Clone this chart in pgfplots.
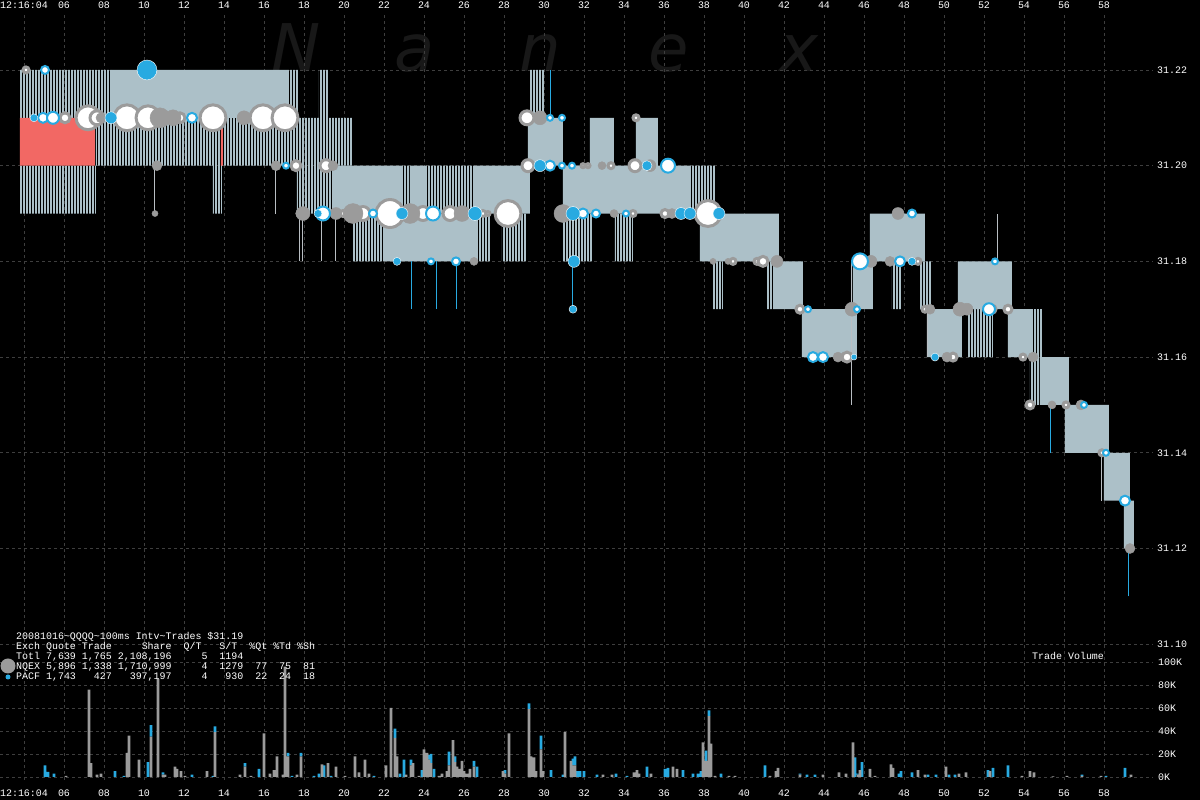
\documentclass[border=0pt]{standalone}
\usepackage{fontspec}
\setmonofont{Liberation Mono}
\newfontfamily\wmfont{DejaVu Sans}
\usepackage{pgfplots}
\usepackage{pgfplotstable}
\pgfplotsset{compat=1.18}
\usetikzlibrary{patterns.meta}

\definecolor{band}{RGB}{172,192,200}
\definecolor{tgray}{RGB}{155,155,155}
\definecolor{tblue}{RGB}{40,170,225}
\definecolor{gridc}{RGB}{62,62,62}
\definecolor{wmc}{RGB}{24,24,24}
\definecolor{redq}{RGB}{242,104,100}
\definecolor{spk}{RGB}{185,190,195}

\newcommand\lab{\fontsize{10}{10}\selectfont\ttfamily}

% trades: t (s after 12:16:00), price, radius (px)
\pgfplotstableread{
t p r
4.10 31.22 3
6.05 31.21 5
7.20 31.21 12
7.65 31.21 7
9.15 31.21 13
10.20 31.21 12
11.80 31.21 5
13.45 31.21 13
15.95 31.21 13
17.05 31.21 13
29.15 31.21 7
34.60 31.21 3
17.60 31.20 5
19.10 31.20 6
29.20 31.20 6
31.95 31.20 2
32.20 31.20 2
33.35 31.20 3
34.55 31.20 6
17.80 31.19 3
19.95 31.19 3
20.95 31.19 7
22.30 31.19 14
23.95 31.19 7
25.30 31.19 7
26.95 31.19 3
27.20 31.19 2
28.20 31.19 13
34.45 31.19 3
36.05 31.19 4
38.20 31.19 13
39.45 31.18 3
40.65 31.18 3
40.95 31.18 5
48.70 31.18 3
42.80 31.17 4
49.05 31.17 3
52.40 31.17 4
53.20 31.17 4
45.15 31.16 5
50.45 31.16 4
53.95 31.16 3
54.30 31.15 4
56.10 31.15 3
57.90 31.14 3
}\tradesW

\pgfplotstableread{
t p r
5.05 31.22 4
4.95 31.21 5
5.45 31.21 6
12.40 31.21 5
30.30 31.21 3
30.90 31.21 3
17.10 31.20 3
30.30 31.20 5
30.90 31.20 3
31.40 31.20 3
36.20 31.20 7
18.95 31.19 7
21.45 31.19 4
24.45 31.19 7
31.95 31.19 5
32.60 31.19 4
34.10 31.19 3
48.40 31.19 4
24.35 31.18 3
25.60 31.18 4
45.80 31.18 8
47.80 31.18 5
52.55 31.18 3
43.20 31.17 3
45.65 31.17 3
52.25 31.17 6
43.45 31.16 5
43.95 31.16 5
57.00 31.15 3
58.10 31.14 3
59.05 31.13 5
}\tradesC

\pgfplotstableread{
t p r
7.85 31.21 5
10.80 31.21 10
11.45 31.21 8
15.00 31.21 7
29.80 31.21 7
10.65 31.20 5
16.60 31.20 5
19.45 31.20 5
32.90 31.20 4
35.30 31.20 6
10.55 31.19 3
17.95 31.19 7
19.60 31.19 6
20.45 31.19 10
23.30 31.19 10
25.90 31.19 8
30.95 31.19 9
33.50 31.19 4
36.40 31.19 5
47.70 31.19 6
26.50 31.18 4
38.45 31.18 3
39.20 31.18 3
41.65 31.18 6
46.35 31.18 6
47.30 31.18 5
45.40 31.17 7
49.30 31.17 5
50.80 31.17 7
51.15 31.17 6
44.70 31.16 5
50.15 31.16 5
54.45 31.16 5
55.40 31.15 4
56.85 31.15 5
59.30 31.12 5
}\tradesG

\pgfplotstableread{
t p r
10.15 31.22 10
4.50 31.21 4
8.35 31.21 6
29.80 31.20 6
35.15 31.20 5
18.70 31.19 4
22.90 31.19 6
26.55 31.19 7
31.45 31.19 7
36.85 31.19 6
37.30 31.19 6
38.75 31.19 6
22.65 31.18 4
31.50 31.18 6
48.40 31.18 4
31.45 31.17 4
45.50 31.16 3
49.55 31.16 4
}\tradesB

% trade volume per 100ms interval, thousands of shares: NQEX (g), PACF (b)
\pgfplotstableread{
t g b
5.05 0 10
5.20 0 4.5
5.50 0 3
6.10 1 0
7.25 76 0
7.35 12 0
7.65 2 0
7.85 3 0
8.55 0 5
9.00 0 1
9.15 21 0
9.25 36 0
9.75 15 0
10.20 0 13
10.35 35 10
10.70 85 0
10.95 2 2
11.05 2 0
11.55 9 0
11.65 7 0
11.85 5 0
12.05 1 0
12.40 0 2
13.15 5 0
13.45 0 1
13.55 39 5
14.80 2 0
15.05 9 3
15.35 1 0
15.75 0 7
16.00 38 0
16.30 3 0
16.50 6 0
16.65 18 0
16.95 2 0
17.05 96 0
17.20 18 3
17.40 0 1
17.65 2 0
17.85 18 3
18.50 0 1
18.75 0 3
18.90 11 0
19.00 0 10
19.20 12 0
19.35 0 1
19.60 9 0
20.05 1 0
20.55 18 0
20.75 4 0
21.05 15 0
21.25 3 0
21.50 0 1
22.10 10 0
22.35 60 0
22.55 34 8
22.65 18 0
22.80 0 3
23.00 0 15
23.10 2 0
23.35 10 5
23.45 12 0
23.75 1 0
23.90 0 6
24.00 24 0
24.15 21 0
24.25 15 4
24.35 12 8
24.50 0 7
24.75 1 0
24.90 3 0
25.15 5 0
25.25 10 12
25.45 32 0
25.55 13 5
25.65 9 0
25.80 7 0
25.90 14 0
26.00 5 0
26.15 3 0
26.30 7 0
26.50 9 5
26.65 0 9
27.95 5 0
28.05 3 3
28.25 38 0
29.25 59 5
29.35 18 0
29.50 17 0
29.60 5 0
29.85 24 12
29.95 5 0
30.35 0 6
30.95 0 2
31.05 39 0
31.35 14 0
31.45 10 6
31.55 10 8
31.65 0 5
31.80 0 5
32.00 0 5
32.65 0 2
32.95 2 0
33.40 2 0
33.60 0 3
34.15 0 1
34.50 4 0
34.65 6 0
34.75 3 0
35.15 0 9
35.35 3 0
36.05 0 7
36.20 0 8
36.45 9 0
36.65 7 0
36.95 0 6
37.45 0 3
37.70 0 3
37.85 0 5
37.95 30 0
38.10 14 9
38.25 53 5
38.35 29 0
38.55 1 0
38.85 0 3
39.25 1 0
39.55 1 0
41.05 0 10
41.30 1 0
41.60 5 0
41.70 8 0
42.80 2 1
43.15 0 2
43.55 0 2
43.95 2 0
44.75 4 0
45.10 3 0
45.45 30 0
45.55 0 17
45.70 2 1
45.80 6 0
45.90 0 13
46.30 7 0
46.55 1 0
47.35 11 0
47.45 8 0
47.75 0 3
47.85 0 5
48.40 0 4
48.70 6 0
49.05 2 0
49.20 0 2
49.60 0 2
50.10 9 0
50.25 0 2
50.55 0 2
50.75 3 0
51.10 4 0
52.20 0 6
52.30 5 0
52.45 0 8
53.20 0 10
53.90 1 0
54.30 5 0
54.50 4 0
55.45 0.5 0
56.15 1 0
56.90 1 1
57.85 1 0
58.10 0 1
59.05 0 8
59.35 2 0
}\volume

\tikzset{lbl/.style={text=white, font=\lab, inner sep=0pt}}
\pgfplotsset{
  trade/.style n args={3}{scatter, only marks, mark=*,
    scatter/use mapped color={draw=#1, fill=#2, line width=#3},
    visualization depends on={\thisrow{r}\as\rr},
    scatter/@pre marker code/.append style={/tikz/mark size=\rr}},
}

\begin{document}
\begin{tikzpicture}[x=1bp,y=1bp]
\path[use as bounding box, fill=black] (0,0) rectangle (1200,800);

\begin{scope}[font=\wmfont\itshape\fontsize{66}{66}\selectfont, text=wmc]
\node[anchor=base] at (296,728) {N};
\node[anchor=base] at (415,728) {a};
\node[anchor=base] at (540,728) {n};
\node[anchor=base] at (669,728) {e};
\node[anchor=base] at (799,728) {x};
\end{scope}

% quotes and trades
\begin{axis}[
  at={(0bp,20bp)}, anchor=south west, scale only axis,
  width=1153bp, height=765bp,
  xmin=2.8, xmax=60.45, ymin=31.07162, ymax=31.23149,
  axis line style={draw=none}, major tick length=0pt,
  xtick={4,6,...,58},
  xticklabels={12:16:04,06,08,10,12,14,16,18,20,22,24,26,28,30,32,34,36,38,40,42,44,46,48,50,52,54,56,58},
  xticklabel pos=upper, xticklabel shift=6bp,
  xticklabel style={lbl, anchor=base},
  ytick={31.10,31.12,31.14,31.16,31.18,31.20,31.22},
  yticklabels={31.10,31.12,31.14,31.16,31.18,31.20,31.22},
  yticklabel pos=right, yticklabel shift=4bp,
  yticklabel style={lbl, anchor=west},
  grid=major,
  major grid style={gridc, dash pattern=on 3bp off 3bp, line width=0.9bp},
  unbounded coords=jump,
]
% spread where quotes flicker
\addplot[draw=none, pattern={Lines[angle=90, distance=3bp, line width=1.4bp]}, pattern color=band] coordinates {
(3.8,31.21) (8.4,31.21) (8.4,31.22) (3.8,31.22) (3.8,nan)
(3.8,31.19) (7.6,31.19) (7.6,31.20) (3.8,31.20) (3.8,nan)
(7.6,31.20) (17.8,31.20) (17.8,31.21) (7.6,31.21) (7.6,nan)
(13.45,31.19) (13.9,31.19) (13.9,31.20) (13.45,31.20) (13.45,nan)
(17.2,31.21) (17.7,31.21) (17.7,31.22) (17.2,31.22) (17.2,nan)
(18.75,31.21) (19.2,31.21) (19.2,31.22) (18.75,31.22) (18.75,nan)
(17.7,31.20) (20.4,31.20) (20.4,31.21) (17.7,31.21) (17.7,nan)
(17.65,31.19) (19.45,31.19) (19.45,31.20) (17.65,31.20) (17.65,nan)
(22.95,31.19) (23.3,31.19) (23.3,31.20) (22.95,31.20) (22.95,nan)
(24.15,31.19) (26.55,31.19) (26.55,31.20) (24.15,31.20) (24.15,nan)
(20.45,31.18) (22.05,31.18) (22.05,31.19) (20.45,31.19) (20.45,nan)
(26.6,31.18) (27.3,31.18) (27.3,31.19) (26.6,31.19) (26.6,nan)
(27.9,31.18) (29.1,31.18) (29.1,31.19) (27.9,31.19) (27.9,nan)
(29.3,31.21) (30.0,31.21) (30.0,31.22) (29.3,31.22) (29.3,nan)
(30.95,31.18) (32.45,31.18) (32.45,31.19) (30.95,31.19) (30.95,nan)
(33.55,31.18) (34.45,31.18) (34.45,31.19) (33.55,31.19) (33.55,nan)
(37.3,31.19) (38.55,31.19) (38.55,31.20) (37.3,31.20) (37.3,nan)
(38.45,31.17) (38.95,31.17) (38.95,31.18) (38.45,31.18) (38.45,nan)
(41.15,31.17) (41.55,31.17) (41.55,31.18) (41.15,31.18) (41.15,nan)
(47.4,31.17) (47.85,31.17) (47.85,31.18) (47.4,31.18) (47.4,nan)
(48.8,31.17) (49.4,31.17) (49.4,31.18) (48.8,31.18) (48.8,nan)
(51.2,31.16) (52.45,31.16) (52.45,31.17) (51.2,31.17) (51.2,nan)
(54.3,31.15) (54.9,31.15) (54.9,31.17) (54.3,31.17) (54.3,nan)
};
% steady bid/ask spread
\addplot[draw=none, fill=band] coordinates {
(8.4,31.21) (17.2,31.21) (17.2,31.22) (8.4,31.22) (8.4,nan)
(19.45,31.19) (22.95,31.19) (22.95,31.20) (19.45,31.20) (19.45,nan)
(23.3,31.19) (24.15,31.19) (24.15,31.20) (23.3,31.20) (23.3,nan)
(26.55,31.19) (29.3,31.19) (29.3,31.20) (26.55,31.20) (26.55,nan)
(22.05,31.18) (26.6,31.18) (26.6,31.19) (22.05,31.19) (22.05,nan)
(29.2,31.20) (30.95,31.20) (30.95,31.21) (29.2,31.21) (29.2,nan)
(30.95,31.19) (37.3,31.19) (37.3,31.20) (30.95,31.20) (30.95,nan)
(32.3,31.20) (33.5,31.20) (33.5,31.21) (32.3,31.21) (32.3,nan)
(34.6,31.20) (35.7,31.20) (35.7,31.21) (34.6,31.21) (34.6,nan)
(37.8,31.18) (41.75,31.18) (41.75,31.19) (37.8,31.19) (37.8,nan)
(41.55,31.17) (42.95,31.17) (42.95,31.18) (41.55,31.18) (41.55,nan)
(42.9,31.16) (45.65,31.16) (45.65,31.17) (42.9,31.17) (42.9,nan)
(45.45,31.17) (46.45,31.17) (46.45,31.18) (45.45,31.18) (45.45,nan)
(46.3,31.18) (49.05,31.18) (49.05,31.19) (46.3,31.19) (46.3,nan)
(49.15,31.16) (50.9,31.16) (50.9,31.17) (49.15,31.17) (49.15,nan)
(50.7,31.17) (53.4,31.17) (53.4,31.18) (50.7,31.18) (50.7,nan)
(53.2,31.16) (54.4,31.16) (54.4,31.17) (53.2,31.17) (53.2,nan)
(54.8,31.15) (56.25,31.15) (56.25,31.16) (54.8,31.16) (54.8,nan)
(56.05,31.14) (58.25,31.14) (58.25,31.15) (56.05,31.15) (56.05,nan)
(58.0,31.13) (59.3,31.13) (59.3,31.14) (58.0,31.14) (58.0,nan)
(59.0,31.12) (59.5,31.12) (59.5,31.13) (59.0,31.13) (59.0,nan)
};
% crossed market
\addplot[draw=none, fill=redq] coordinates {
(3.8,31.20) (7.55,31.20) (7.55,31.21) (3.8,31.21) (3.8,nan)
(13.85,31.20) (13.95,31.20) (13.95,31.21) (13.85,31.21) (13.85,nan)
};
% single quote spikes
\addplot[spk, line width=1bp] coordinates {
(10.55,31.19) (10.55,31.20) (10.55,nan)
(16.6,31.19) (16.6,31.20) (16.6,nan)
(17.8,31.18) (17.8,31.19) (17.8,nan)
(17.95,31.18) (17.95,31.19) (17.95,nan)
(18.9,31.18) (18.9,31.19) (18.9,nan)
(19.6,31.18) (19.6,31.19) (19.6,nan)
(45.4,31.15) (45.4,31.18) (45.4,nan)
(49.2,31.16) (49.2,31.17) (49.2,nan)
(52.7,31.18) (52.7,31.19) (52.7,nan)
(57.9,31.13) (57.9,31.14) (57.9,nan)
};
\addplot[tblue, line width=1bp] coordinates {
(23.4,31.17) (23.4,31.18) (23.4,nan)
(24.65,31.17) (24.65,31.18) (24.65,nan)
(25.65,31.17) (25.65,31.18) (25.65,nan)
(31.45,31.17) (31.45,31.18) (31.45,nan)
(30.35,31.21) (30.35,31.22) (30.35,nan)
(55.35,31.14) (55.35,31.15) (55.35,nan)
(59.25,31.11) (59.25,31.12) (59.25,nan)
};
\addplot[trade={tgray}{white}{3bp}] table[x=t, y=p] {\tradesW};
\addplot[trade={tgray}{tgray}{0.5bp}] table[x=t, y=p] {\tradesG};
\addplot[trade={tblue}{white}{2bp}] table[x=t, y=p] {\tradesC};
\addplot[trade={white}{tblue}{0.4bp}] table[x=t, y=p] {\tradesB};
\end{axis}

% trade volume
\begin{axis}[
  at={(0bp,23bp)}, anchor=south west, scale only axis,
  width=1153bp, height=115bp,
  xmin=2.8, xmax=60.45, ymin=0, ymax=100,
  axis line style={draw=none}, major tick length=0pt,
  xtick={4,6,...,58},
  xticklabels={12:16:04,06,08,10,12,14,16,18,20,22,24,26,28,30,32,34,36,38,40,42,44,46,48,50,52,54,56,58},
  xticklabel pos=lower, xticklabel shift=20bp,
  xticklabel style={lbl, anchor=base},
  ytick={0,20,40,60,80,100},
  yticklabels={0K,20K,40K,60K,80K,100K},
  yticklabel pos=right, yticklabel shift=5bp,
  yticklabel style={lbl, anchor=west},
  ymajorgrids,
  major grid style={gridc, dash pattern=on 3bp off 3bp, line width=0.9bp},
  ybar stacked, bar width=2.6bp,
]
\addplot[draw=none, fill=tgray] table[x=t, y=g] {\volume};
\addplot[draw=none, fill=tblue] table[x=t, y=b] {\volume};
\end{axis}

% summary block
\node[lbl, anchor=base west] at (16,160) {20081016\textasciitilde QQQQ\textasciitilde 100ms Intv\textasciitilde Trades \$31.19};
\node[lbl, anchor=base west] at (16,150) {Exch Quote Trade~~~~~Share~~Q/T~~~S/T~~\%Qt \%Td \%Sh};
\node[lbl, anchor=base west] at (16,140) {Totl 7,639 1,765 2,108,196~~~~~5~~1194};
\node[lbl, anchor=base west] at (16,130) {NQEX 5,896 1,338 1,710,999~~~~~4~~1279~~77~~75~~81};
\node[lbl, anchor=base west] at (16,120) {PACF 1,743~~~427~~~397,197~~~~~4~~~930~~22~~24~~18};
\node[anchor=center, inner sep=0pt] at (8,134) {\tikz\fill[tgray] circle (7.5bp);};
\node[anchor=center, inner sep=0pt] at (8,123) {\tikz\fill[tblue] circle (2.5bp);};
\node[lbl, anchor=base west] at (1032,140) {Trade Volume};
\end{tikzpicture}
\end{document}
